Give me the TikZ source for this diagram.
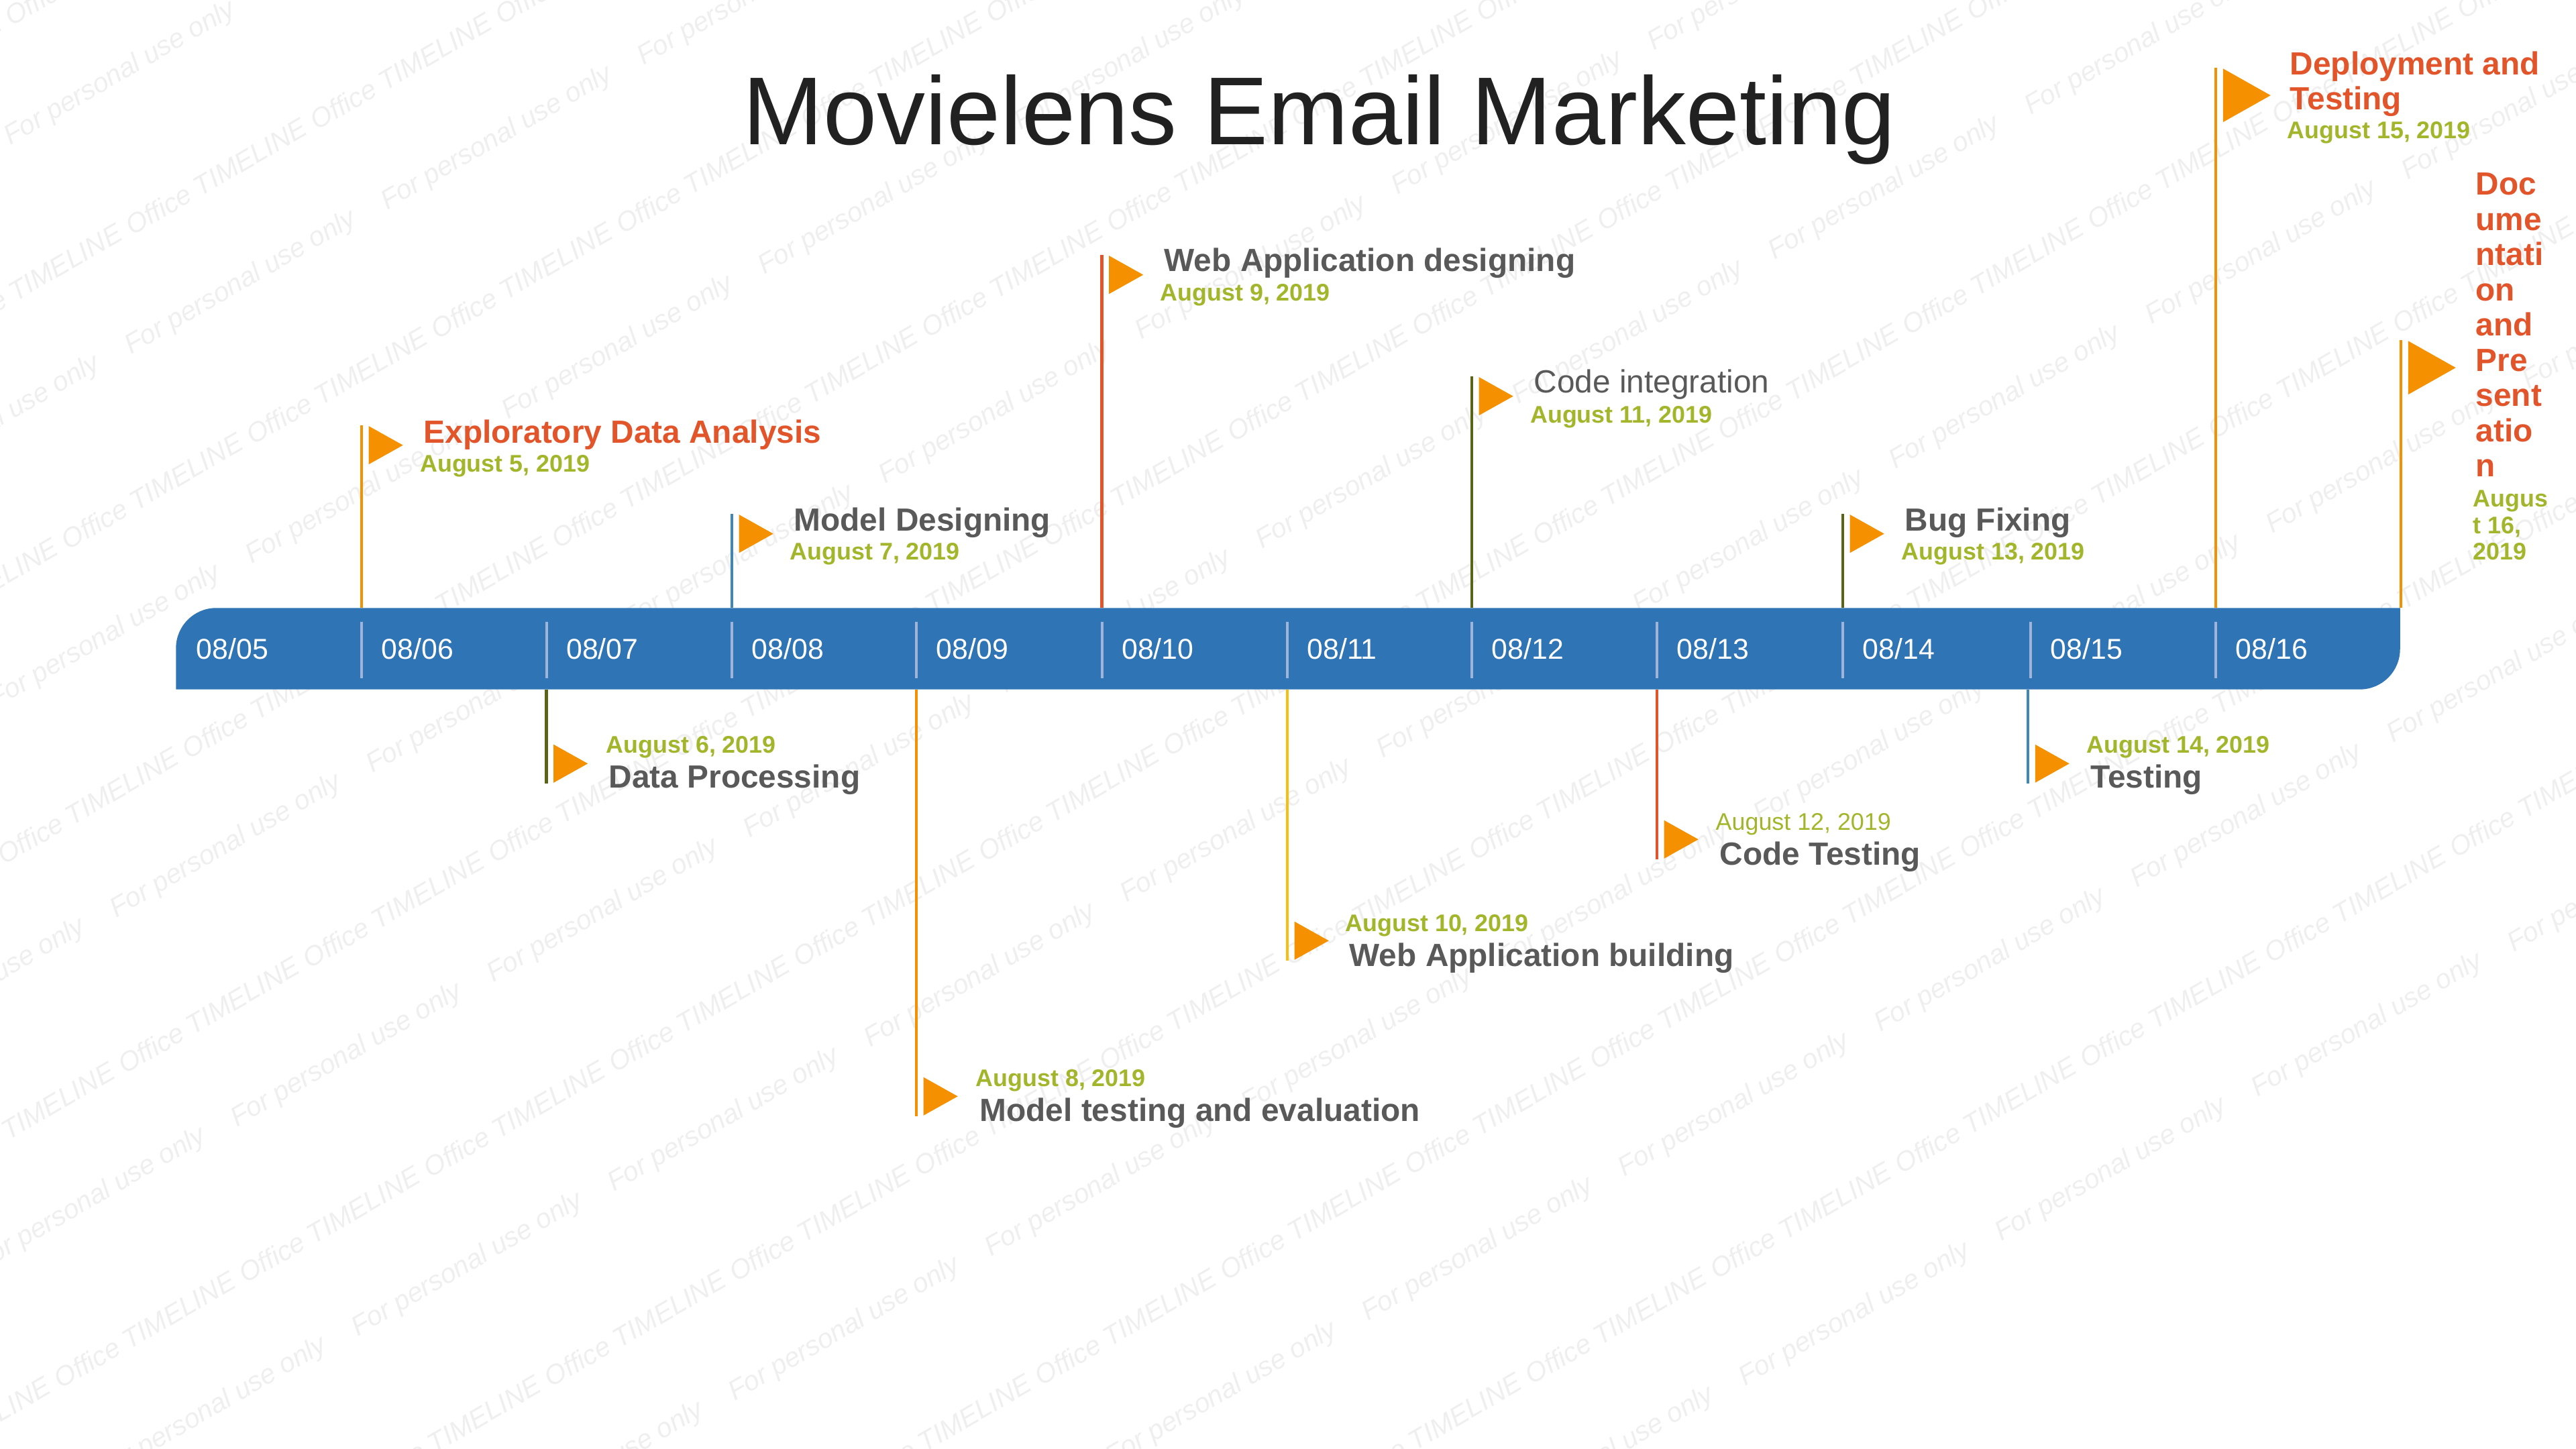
\documentclass[tikz,border=0pt]{standalone}
\usepackage{fontspec}
\setmainfont{Liberation Sans}
\usetikzlibrary{positioning,calc,shapes.geometric}
\definecolor{tlblue}{HTML}{2F74B5}
\definecolor{tltick}{HTML}{9FB4D8}
\definecolor{tlorange}{HTML}{F59100}
\definecolor{tlred}{HTML}{E2552B}
\definecolor{tlolive}{HTML}{5A6417}
\definecolor{tlsteel}{HTML}{3F87B8}
\definecolor{tlyellow}{HTML}{F7BE12}
\definecolor{tldate}{HTML}{A3B52B}
\definecolor{tlgray}{HTML}{595959}
\definecolor{tlmark}{HTML}{EFEFEF}

\begin{document}
\begin{tikzpicture}[
  mark text/.style={font=\fontsize{11.55pt}{13pt}\selectfont\itshape,text=tlmark,rotate=30,inner sep=0pt},
  flag/.style={isosceles triangle,isosceles triangle stretches,fill=tlorange,inner sep=0pt,minimum height=0.51cm,minimum width=0.57cm},
  bigflag/.style={flag,minimum height=0.71cm,minimum width=0.80cm},
  pole/.style={line width=0.045cm},
  ev/.style={anchor=base west,inner sep=0pt,align=left,text=tlgray,font=\fontsize{13.6pt}{14.95pt}\selectfont\bfseries},
  evred/.style={ev,text=tlred},
  when/.style={anchor=base west,inner sep=0pt,align=left,text=tldate,font=\fontsize{10.2pt}{11.24pt}\selectfont\bfseries},
  day/.style={anchor=base west,inner sep=0pt,text=white,font=\fontsize{12.18pt}{14pt}\selectfont}]

  \useasboundingbox (0,0) rectangle (38.4,21.6);

  % watermark
  \begin{scope}
    \clip (0,0) rectangle (38.4,21.6);
    \foreach \i in {-9,...,10} \foreach \j in {-3,...,8} {
      \pgfmathsetmacro\mx{1.79+3.82*\i+1.80*\j}
      \pgfmathsetmacro\my{20.50+2.155*\i-3.12*\j}
      \pgfmathtruncatemacro\inside{and(and(\mx>-2,\mx<40.4),and(\my>-1.2,\my<22.8))}
      \ifnum\inside=1
        \node[mark text,name=fp-\i-\j] at (\mx,\my) {For personal use only};
      \fi
    }
    \foreach \i in {-12,...,16} \foreach \j in {-8,...,3} {
      \pgfmathsetmacro\mx{4.91+2.755*\i+1.80*\j}
      \pgfmathsetmacro\my{3.35+1.57*\i-3.12*\j}
      \pgfmathtruncatemacro\inside{and(and(\mx>-1.6,\mx<40),and(\my>-1,\my<22.6))}
      \ifnum\inside=1
        \node[mark text,name=ot-\i-\j] at (\mx,\my) {Office TIMELINE};
      \fi
    }
  \end{scope}

  % title
  \node[anchor=base west,inner sep=0pt,text=black!87,font=\fontsize{40.9pt}{44pt}\selectfont] (head) at (11.07,19.44) {Movielens Email Marketing};

  % bar
  \node[inner sep=0pt,minimum width=33.14cm,minimum height=1.20cm] (bar) at (19.20,11.93) {};
  \fill[tlblue] (bar.south west) [rounded corners=0.6cm] -- (bar.north west) [rounded corners=0pt] -- (bar.north east) [rounded corners=0.6cm] -- (bar.south east) [rounded corners=0pt] -- cycle;

  % days on the bar
  \node[day] (d05) at (2.92,11.77) {08/05};
  \foreach \x/\lab in {5.39/06,8.145/07,10.91/08,13.66/09,16.425/10,19.19/11,21.94/12,24.70/13,27.47/14,30.27/15,33.03/16} {
    \coordinate (k\lab) at (\x,11.49);
    \node[day] (d\lab) at ($(k\lab)+(0.29,0.28)$) {08/\lab};
    \draw[tltick,line width=0.04cm] (k\lab) -- ++(0,0.84);
  }

  % above the bar
  \coordinate (p05) at (5.39,15.26);
  \draw[pole,tlorange] (p05) -- (p05 |- bar.north);
  \node[flag,right=1mm of p05,anchor=left corner] (f05) {};
  \node[evred] (t05) at (6.31,14.99) {Exploratory Data Analysis};
  \node[when] (w05) at (6.255,14.56) {August 5, 2019};

  \coordinate (p07) at (10.91,13.94);
  \draw[pole,tlsteel] (p07) -- (p07 |- bar.north);
  \node[flag,right=1mm of p07,anchor=left corner] (f07) {};
  \node[ev] (t07) at (11.83,13.68) {Model Designing};
  \node[when] (w07) at (11.77,13.25) {August 7, 2019};

  \coordinate (p09) at (16.425,17.80);
  \draw[pole,tlred] (p09) -- (p09 |- bar.north);
  \node[flag,right=1mm of p09,anchor=left corner] (f09) {};
  \node[ev] (t09) at (17.35,17.55) {Web Application designing};
  \node[when] (w09) at (17.29,17.11) {August 9, 2019};

  \coordinate (p11) at (21.94,15.99);
  \draw[pole,tlolive] (p11) -- (p11 |- bar.north);
  \node[flag,right=1mm of p11,anchor=left corner] (f11) {};
  \node[ev,font=\fontsize{13.6pt}{14.95pt}\selectfont] (t11) at (22.86,15.74) {Code integration};
  \node[when] (w11) at (22.805,15.29) {August 11, 2019};

  \coordinate (p13) at (27.47,13.94);
  \draw[pole,tlolive] (p13) -- (p13 |- bar.north);
  \node[flag,right=1mm of p13,anchor=left corner] (f13) {};
  \node[ev] (t13) at (28.39,13.68) {Bug Fixing};
  \node[when] (w13) at (28.34,13.25) {August 13, 2019};

  \coordinate (p15) at (33.03,20.59);
  \draw[pole,tlorange] (p15) -- (p15 |- bar.north);
  \node[bigflag,right=1mm of p15,anchor=left corner] (f15) {};
  \node[evred] (t15) at (34.13,19.96) {Deployment and\\Testing};
  \node[when] (w15) at (34.09,19.53) {August 15, 2019};

  \coordinate (p16) at (35.79,16.53);
  \draw[pole,tlorange] (p16) -- (p16 |- bar.north);
  \node[bigflag,right=1mm of p16,anchor=left corner] (f16) {};
  \node[evred] (t16) at (36.90,14.49) {Doc\\ume\\ntati\\on\\and\\Pre\\sent\\atio\\n};
  \node[when] (w16) at (36.86,13.25) {Augus\\t 16,\\2019};

  % below the bar
  \coordinate (p06) at (8.145,9.92);
  \draw[pole,tlolive] (p06) -- (p06 |- bar.south);
  \node[flag,right=1mm of p06,anchor=right corner] (f06) {};
  \node[when] (w06) at (9.03,10.37) {August 6, 2019};
  \node[ev] (t06) at (9.07,9.85) {Data Processing};

  \coordinate (p08) at (13.66,4.96);
  \draw[pole,tlorange] (p08) -- (p08 |- bar.south);
  \node[flag,right=1mm of p08,anchor=right corner] (f08) {};
  \node[when] (w08) at (14.54,5.40) {August 8, 2019};
  \node[ev] (t08) at (14.60,4.885) {Model testing and evaluation};

  \coordinate (p10) at (19.19,7.28);
  \draw[pole,tlyellow] (p10) -- (p10 |- bar.south);
  \node[flag,right=1mm of p10,anchor=right corner] (f10) {};
  \node[when] (w10) at (20.05,7.715) {August 10, 2019};
  \node[ev] (t10) at (20.11,7.195) {Web Application building};

  \coordinate (p12) at (24.70,8.79);
  \draw[pole,tlred] (p12) -- (p12 |- bar.south);
  \node[flag,right=1mm of p12,anchor=right corner] (f12) {};
  \node[when,font=\fontsize{10.2pt}{11.24pt}\selectfont] (w12) at (25.57,9.225) {August 12, 2019};
  \node[ev] (t12) at (25.63,8.705) {Code Testing};

  \coordinate (p14) at (30.23,9.92);
  \draw[pole,tlsteel] (p14) -- (p14 |- bar.south);
  \node[flag,right=1mm of p14,anchor=right corner] (f14) {};
  \node[when] (w14) at (31.10,10.37) {August 14, 2019};
  \node[ev] (t14) at (31.16,9.85) {Testing};

\end{tikzpicture}
\end{document}
